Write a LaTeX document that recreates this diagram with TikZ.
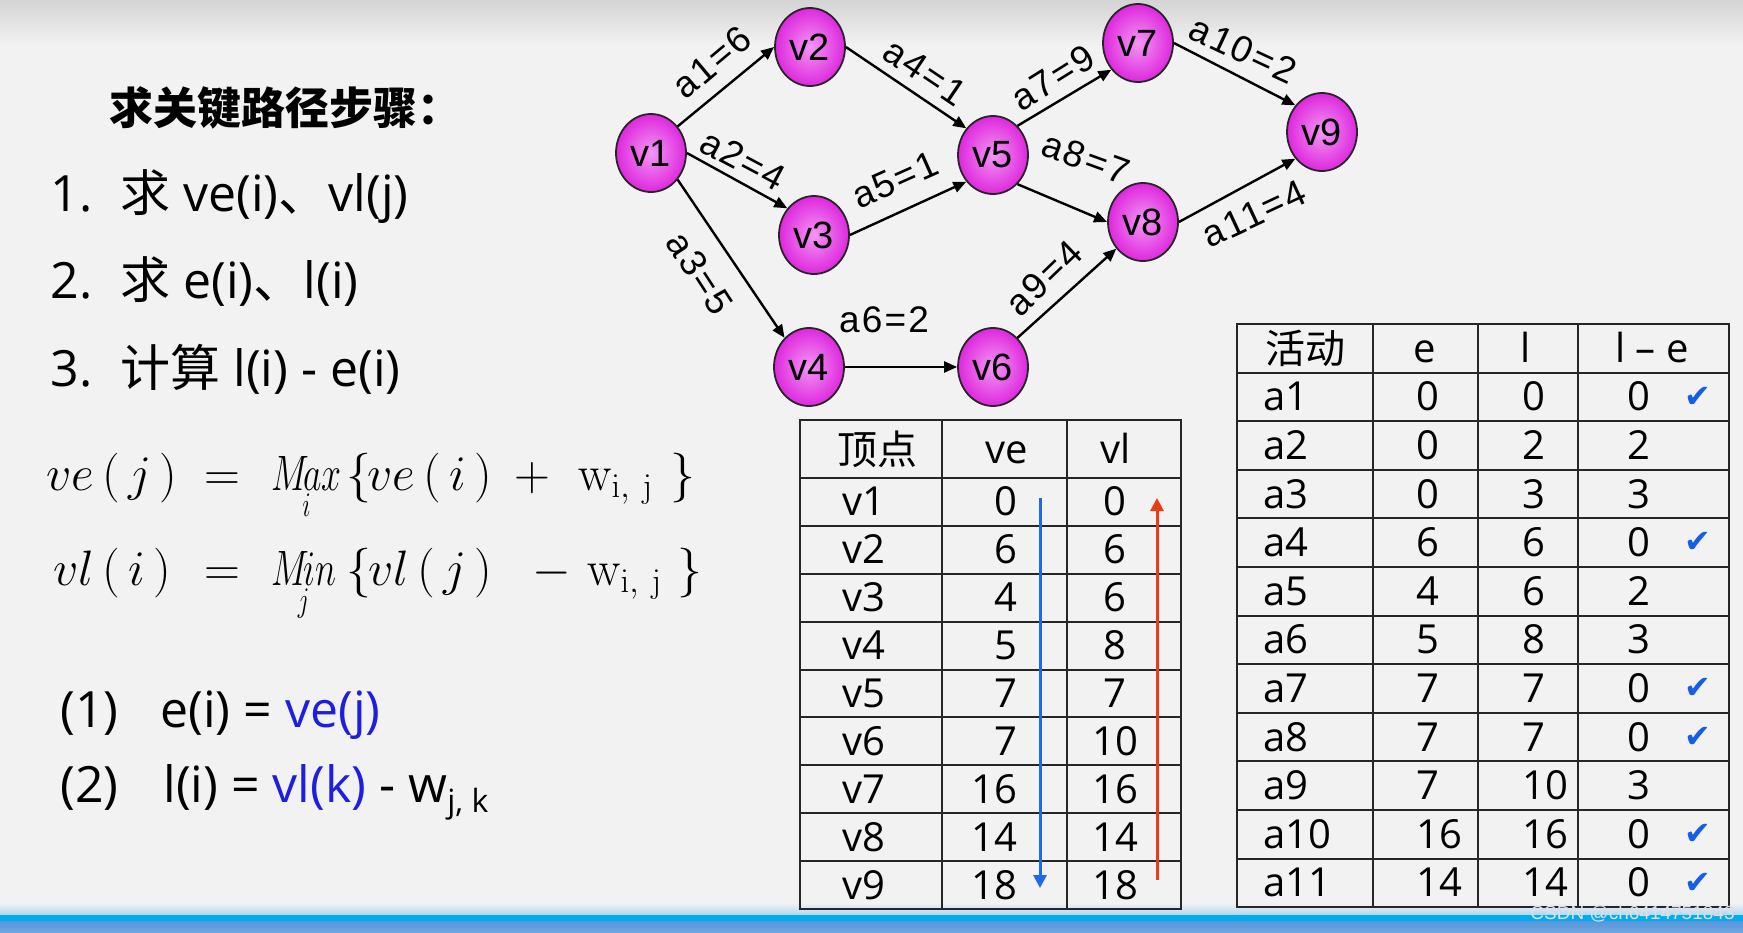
\documentclass[tikz,border=0pt]{standalone}
\usepackage[no-math]{fontspec}
\setmainfont{Open Sans}
\newfontfamily\cjk{Noto Sans CJK SC}
\newfontfamily\lblf{Liberation Sans}[LetterSpace=6]
\newfontfamily\nodef{Liberation Sans}
\newfontfamily\symf{DejaVu Sans}
\usetikzlibrary{arrows.meta,shapes.geometric}
\newcommand\cx[1]{\scalebox{0.72}[1]{#1}}
\definecolor{bg}{RGB}{242,242,242}
\definecolor{bgtop}{RGB}{212,212,212}
\definecolor{magout}{RGB}{222,40,222}
\definecolor{magin}{RGB}{244,150,244}
\definecolor{eqblue}{RGB}{30,30,225}
\definecolor{arrblue}{RGB}{30,105,235}
\definecolor{arrred}{RGB}{235,60,20}
\definecolor{chkblue}{RGB}{20,95,230}
\definecolor{bandlt}{RGB}{175,215,240}
\definecolor{bandcy}{RGB}{0,174,240}
\definecolor{banddk}{RGB}{85,150,220}
\tikzset{
  vtx/.style={ellipse, draw=black!85, line width=0.9pt, minimum width=35pt, minimum height=39pt,
    inner sep=0pt, shading=radial, inner color=magin, outer color=magout,
    font=\nodef\fontsize{19}{21}\selectfont},
  edge/.style={draw=black, line width=1.2pt, -{Triangle[length=6.5pt,width=5.5pt]}},
  elab/.style={inner sep=0pt, font=\lblf\fontsize{18.5}{20}\selectfont},
  txt/.style={inner sep=0pt, anchor=base west, font=\fontsize{25}{30}\selectfont},
  ttl/.style={inner sep=0pt, anchor=west, font=\cjk\bfseries\fontsize{22}{26}\selectfont},
  fm/.style={inner sep=0pt, anchor=base west, font=\fontsize{25}{30}\selectfont},
  tb/.style={inner sep=0pt, font=\fontsize{20}{24}\selectfont},
  tbcjk/.style={inner sep=0pt, anchor=west, font=\cjk\fontsize{20}{24}\selectfont},
  tline/.style={draw=black!85, line width=1pt},
  chk/.style={inner sep=0pt, text=chkblue, font=\symf\fontsize{16}{16}\selectfont},
  vline/.style={line width=1.5pt, -{Triangle[length=6.5pt,width=6.5pt]}}
}
\begin{document}
\begin{tikzpicture}[x=0.5pt,y=-0.5pt]
% background
\fill[bg] (0,0) rectangle (1743,932);
\shade[top color=bgtop, bottom color=bg] (0,0) rectangle (1743,45);
\shade[top color=bg, bottom color=bandlt] (0,903) rectangle (1743,915);
\fill[bandcy] (0,915) rectangle (1743,921);
\shade[top color=banddk, bottom color=banddk!85!white] (0,921) rectangle (1743,932);

% ---------- left text ----------
\node[ttl] (title) at (109,108) {求关键路径步骤：};
\node[txt] (n1) at (50,211) {1.};
\node[txt] (s1) at (120,211) {{\cjk 求} ve(i){\cjk 、}vl(j)};
\node[txt] (n2) at (50,298) {2.};
\node[txt] (s2) at (120,298) {{\cjk 求} e(i){\cjk 、}l(i)};
\node[txt] (n3) at (50,386) {3.};
\node[txt] (s3) at (120,386) {{\cjk 计算} l(i) - e(i)};

% formulas
\node[fm] (f1) at (46,490) {\makebox[79pt][l]{$ve\,(\,j\,)$}\makebox[33.5pt][l]{$=$}\makebox[37.5pt][l]{\cx{$\mathop{M\!ax}\limits_{i}$}}\makebox[10.5pt][l]{$\{$}\makebox[73.5pt][l]{$ve\,(\,i\,)$}\makebox[32pt][l]{$+$}\makebox[46pt][l]{$\mathrm{w}_{\mathrm{i,\ j}}$}$\}$};
\node[fm] (f2) at (53,585) {\makebox[75.5pt][l]{$vl\,(\,i\,)$}\makebox[33.5pt][l]{$=$}\makebox[37.5pt][l]{\cx{$\mathop{M\!in}\limits_{j}$}}\makebox[11pt][l]{$\{$}\makebox[82pt][l]{$vl\,(\,j\,)$}\makebox[27.5pt][l]{$-$}\makebox[45pt][l]{$\mathrm{w}_{\mathrm{i,\ j}}$}$\}$};

\node[txt] (p1) at (60,727) {(1)};
\node[txt] (q1) at (160,727) {e(i) = \textcolor{eqblue}{ve(j)}};
\node[txt] (p2) at (60,802) {(2)};
\node[txt] (q2) at (163,802) {l(i) = \textcolor{eqblue}{vl(k)} - w\raisebox{-5pt}{\fontsize{16}{16}\selectfont j, k}};

% ---------- graph ----------
\node[vtx] (v1) at (651,153) {v1};
\node[vtx] (v2) at (810,47) {v2};
\node[vtx] (v3) at (814,235) {v3};
\node[vtx] (v4) at (809,367) {v4};
\node[vtx] (v5) at (993,155) {v5};
\node[vtx] (v6) at (993,367) {v6};
\node[vtx] (v7) at (1138,43) {v7};
\node[vtx] (v8) at (1143,222) {v8};
\node[vtx] (v9) at (1322,132) {v9};

\draw[edge] (v1.45) -- (v2.180);
\draw[edge] (v1.east) -- (v3.135);
\draw[edge] (v1.-45) -- (v4.130);
\draw[edge] (v2.east) -- (v5.135);
\draw[edge] (v3.east) -- (v5.-135);
\draw[edge] (v4.east) -- (v6.west);
\draw[edge] (v5.50) -- (v7.-135);
\draw[edge] (v5.-50) -- (v8.west);
\draw[edge] (v6.50) -- (v8.-135);
\draw[edge] (v7.east) -- (v9.135);
\draw[edge] (v8.east) -- (v9.-135);

\node[elab, rotate=40] (l1) at (712,62) {a1=6};
\node[elab, rotate=-28] (l2) at (743,160) {a2=4};
\node[elab, rotate=-57] (l3) at (700,273) {a3=5};
\node[elab, rotate=-34] (l4) at (925,72) {a4=1};
\node[elab, rotate=24] (l5) at (895,180) {a5=1};
\node[elab] (l6) at (884,320) {a6=2};
\node[elab, rotate=32] (l7) at (1053,78) {a7=9};
\node[elab, rotate=-20] (l8) at (1086,158) {a8=7};
\node[elab, rotate=44] (l9) at (1044,278) {a9=4};
\node[elab, rotate=-25] (l10) at (1243,50) {a10=2};
\node[elab, rotate=25] (l11) at (1254,214) {a11=4};

% ---------- vertex table ----------
\draw[tline] (800,420) rectangle (1181,909);
\foreach \x in {942,1067} \draw[tline] (\x,420) -- (\x,909);
\foreach \k in {0,...,8} \draw[tline] (800,{478+47.89*\k}) -- (1181,{478+47.89*\k});
\node[tbcjk] (hv) at (837,449) {顶点};
\node[tb, anchor=base] (hve) at (1007,463) {ve};
\node[tb, anchor=base] (hvl) at (1116,463) {vl};
\foreach \v/\e/\l [count=\i] in {v1/0/0, v2/6/6, v3/4/6, v4/5/8, v5/7/7, v6/7/10, v7/16/16, v8/14/14, v9/18/18} {
  \pgfmathsetmacro\yb{478+47.89*(\i-0.5)+14}
  \node[tb, anchor=base west] (lv\i) at (842,\yb) {\v};
  \node[tb, anchor=base east] (le\i) at (1018,\yb) {\e};
  \node[tb, anchor=base] (ll\i) at (1115,\yb) {\l};
}
\coordinate (bs) at (1040,498);
\coordinate (be) at (1040,888);
\coordinate (rs) at (1157,880);
\coordinate (re) at (1157,498);
\draw[vline, arrblue] (bs) -- (be);
\draw[vline, arrred] (rs) -- (re);

% ---------- activity table ----------
\draw[tline] (1237,324) rectangle (1729,907);
\foreach \x in {1373,1478,1578} \draw[tline] (\x,324) -- (\x,907);
\foreach \k in {1,...,11} \draw[tline] (1237,{324+48.6*\k}) -- (1729,{324+48.6*\k});
\node[tbcjk] (ha) at (1265,348) {活动};
\node[tb, anchor=base] (hae) at (1425,362) {e};
\node[tb, anchor=base] (hal) at (1526,362) {l};
\node[tb, anchor=base] (had) at (1652,362) {l – e};
\foreach \a/\e/\l/\d/\c [count=\i] in {a1/0/0/0/1, a2/0/2/2/0, a3/0/3/3/0, a4/6/6/0/1, a5/4/6/2/0, a6/5/8/3/0, a7/7/7/0/1, a8/7/7/0/1, a9/7/10/3/0, a10/16/16/0/1, a11/14/14/0/1} {
  \pgfmathsetmacro\yc{324+48.6*(\i+0.5)}
  \pgfmathsetmacro\yb{\yc+14}
  \node[tb, anchor=base west] (ra\i) at (1263,\yb) {\a};
  \node[tb, anchor=base west] (re\i) at (1416,\yb) {\e};
  \node[tb, anchor=base west] (rl\i) at (1522,\yb) {\l};
  \node[tb, anchor=base west] (rd\i) at (1627,\yb) {\d};
  \ifnum\c=1 \node[chk] (ck\i) at (1698,\yc) {✔}; \fi
}

\node[inner sep=0pt, anchor=east, text=white!75!gray, font=\nodef\fontsize{9.5}{10}\selectfont] (wm) at (1735,914) {CSDN @ch6414751843};
\end{tikzpicture}
\end{document}
